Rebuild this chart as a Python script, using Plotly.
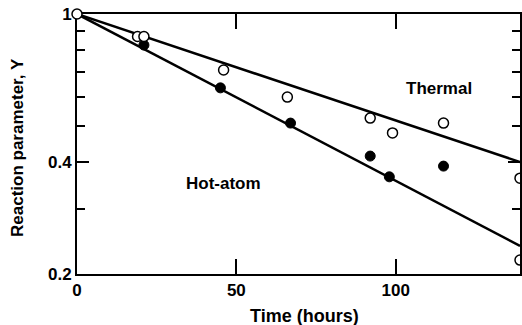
import plotly.graph_objects as go
import numpy as np

# Data
thermal_t = [0, 19, 21, 46, 66, 92, 99, 115]
thermal_y = [1.0, 0.87, 0.87, 0.707, 0.598, 0.525, 0.479, 0.509]

# open circles cut by the right border
edge_t = [139, 139]
edge_y = [0.362, 0.218]

hot_t = [21, 45, 67, 92, 98, 115]
hot_y = [0.825, 0.633, 0.509, 0.415, 0.365, 0.390]

# fitted lines (endpoints)
line_t = [0, 139]
thermal_fit = [1.0, 0.40]
hot_fit = [1.0, 0.238]

x_ticks = [0, 50, 100]
y_ticks = [0.2, 0.4, 1]
y_ticktext = ["0.2", "0.4", "1"]
y_minor = [0.3, 0.5, 0.6, 0.7, 0.8, 0.9]

FONT = "Liberation Sans"
FS = 17

fig = go.Figure()
fig.add_trace(go.Scatter(x=line_t, y=thermal_fit, mode="lines",
                         line=dict(color="black", width=2.5), showlegend=False))
fig.add_trace(go.Scatter(x=line_t, y=hot_fit, mode="lines",
                         line=dict(color="black", width=2.5), showlegend=False))
fig.add_trace(go.Scatter(x=hot_t, y=hot_y, mode="markers",
                         marker=dict(size=10, color="black", line=dict(color="black", width=1)),
                         showlegend=False, cliponaxis=False))
fig.add_trace(go.Scatter(x=thermal_t, y=thermal_y, mode="markers",
                         marker=dict(size=10, color="white", line=dict(color="black", width=1.5)),
                         showlegend=False, cliponaxis=False))
fig.add_trace(go.Scatter(x=edge_t, y=edge_y, mode="markers",
                         marker=dict(size=10, color="white", line=dict(color="black", width=1.5)),
                         showlegend=False, cliponaxis=True))

axis_common = dict(showgrid=False, zeroline=False, showline=True, linecolor="black",
                   linewidth=2, ticks="inside", tickcolor="black", mirror="allticks",
                   automargin=False, layer="below traces",
                   tickfont=dict(family=FONT, size=FS, color="black", weight="bold"))

fig.update_xaxes(range=[0, 139], tickmode="array", tickvals=x_ticks,
                 ticklen=15, tickwidth=2, **axis_common)
fig.update_yaxes(type="log", range=[np.log10(0.2), 0], tickmode="array",
                 tickvals=y_ticks, ticktext=y_ticktext, ticklen=12, tickwidth=2,
                 minor=dict(tickvals=y_minor, ticklen=8, tickwidth=1.5, ticks="inside",
                            tickcolor="black", showgrid=False),
                 **axis_common)

PW, PH = 443, 260
def label(text, px, py, size=FS, angle=0):
    fig.add_annotation(text=text, xref="paper", yref="paper",
                       x=(px - 77) / PW, y=(274 - py) / PH,
                       xanchor="center", yanchor="middle", textangle=angle,
                       showarrow=False,
                       font=dict(family=FONT, size=size, color="black", weight="bold"))

label("Time (hours)", 304, 316, size=18)
label("Reaction parameter, Y", 17, 148, angle=-90)
label("Thermal", 439, 88)
label("Hot-atom", 223, 183)

fig.update_layout(width=522, height=325, margin=dict(l=77, r=2, t=14, b=51),
                  paper_bgcolor="white", plot_bgcolor="white")
fig.write_html("out.html", config={"displayModeBar": False},
               post_script="document.body.style.margin='0';document.body.style.overflow='hidden';")
